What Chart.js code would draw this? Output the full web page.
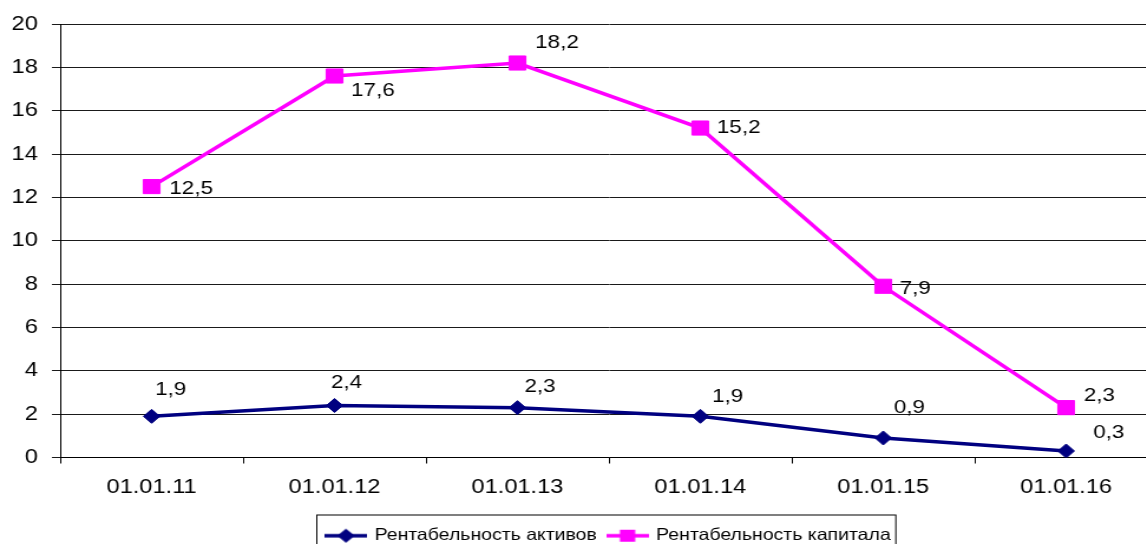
<!DOCTYPE html>
<html>
<head>
<meta charset="utf-8">
<script src="https://cdn.jsdelivr.net/npm/chart.js@4/dist/chart.umd.min.js"></script>
<style>
  html, body { margin: 0; padding: 0; background: #fff; overflow: hidden; width: 1146px; height: 544px; }
  #wrap { position: absolute; left: 0; top: 0; width: 992px; height: 570px; transform: scaleX(1.18); transform-origin: 0 0; }
  canvas { display: block; }
</style>
</head>
<body>
<div id="wrap"><canvas id="chart" width="992" height="570"></canvas></div>
<script>
// Reporting dates and the two profitability ratios, %
const periods = ['01.01.11', '01.01.12', '01.01.13', '01.01.14', '01.01.15', '01.01.16'];
const assetReturn = [1.9, 2.4, 2.3, 1.9, 0.9, 0.3];
const equityReturn = [12.5, 17.6, 18.2, 15.2, 7.9, 2.3];
const seriesNames = ['Рентабельность активов', 'Рентабельность капитала'];
const yAxisMin = 0;
const yAxisMax = 20;
const yAxisStep = 2;

// Where each value label sits relative to its point: [dx to text start, dy to text middle]
const assetLabelShift = [[3, -27], [-3, -23], [6, -21], [10, -20], [9, -30], [23, -18]];
const equityLabelShift = [[15, 2], [14, 15], [15, -20], [14, 0], [14, 2], [15, -12]];

const NAVY = '#000080';
const MAGENTA = '#FF00FF';
const FONT = '"Liberation Sans", Arial, sans-serif';

// Small line-with-marker swatches for the legend
function swatch(color, shape) {
  const c = document.createElement('canvas');
  c.width = 36; c.height = 16;
  const g = c.getContext('2d');
  g.strokeStyle = color; g.lineWidth = 3.5;
  g.beginPath(); g.moveTo(0, 8); g.lineTo(36, 8); g.stroke();
  g.fillStyle = color;
  if (shape === 'diamond') {
    g.beginPath(); g.moveTo(18, 1); g.lineTo(25.5, 8); g.lineTo(18, 15); g.lineTo(10.5, 8); g.closePath(); g.fill();
  } else {
    g.fillRect(11.5, 2, 13, 12);
  }
  return c;
}
const legendMarks = [swatch(NAVY, 'diamond'), swatch(MAGENTA, 'square')];

const fmt = v => v.toFixed(1).replace('.', ',');

const valueLabels = {
  id: 'valueLabels',
  afterDatasetsDraw(chart) {
    const ctx = chart.ctx;
    const shifts = [assetLabelShift, equityLabelShift];
    ctx.save();
    ctx.font = '19px ' + FONT;
    ctx.fillStyle = '#000';
    ctx.textAlign = 'left';
    ctx.textBaseline = 'middle';
    chart.data.datasets.forEach((ds, i) => {
      const meta = chart.getDatasetMeta(i);
      meta.data.forEach((pt, j) => {
        const s = shifts[i][j];
        ctx.fillText(fmt(ds.data[j]), pt.x + s[0], pt.y + s[1]);
      });
    });
    ctx.restore();
  }
};

const legendFrame = {
  id: 'legendFrame',
  afterDraw(chart) {
    const lg = chart.legend;
    if (!lg || !lg.legendHitBoxes || !lg.legendHitBoxes.length) return;
    const boxes = lg.legendHitBoxes;
    const left = Math.min(...boxes.map(b => b.left)) - 9;
    const right = Math.max(...boxes.map(b => b.left + b.width)) + 4;
    const top = lg.top - 2.5;
    const ctx = chart.ctx;
    ctx.save();
    ctx.strokeStyle = '#000';
    ctx.lineWidth = 1;
    ctx.strokeRect(Math.round(left) + 0.5, top, right - left, 60);
    ctx.restore();
  }
};

new Chart(document.getElementById('chart'), {
  type: 'line',
  data: {
    labels: periods,
    datasets: [
      {
        label: seriesNames[0],
        data: assetReturn,
        borderColor: NAVY,
        backgroundColor: NAVY,
        borderWidth: 3.5,
        pointStyle: 'rectRot',
        pointRadius: 7,
        pointBorderWidth: 1,
        pointBackgroundColor: NAVY,
        pointBorderColor: NAVY,
        tension: 0
      },
      {
        label: seriesNames[1],
        data: equityReturn,
        borderColor: MAGENTA,
        backgroundColor: MAGENTA,
        borderWidth: 3.5,
        pointStyle: 'rect',
        pointRadius: 10,
        pointBorderWidth: 1,
        pointBackgroundColor: MAGENTA,
        pointBorderColor: MAGENTA,
        tension: 0
      }
    ]
  },
  options: {
    responsive: false,
    animation: false,
    devicePixelRatio: 1,
    layout: { padding: { top: 22, left: 0, right: 0, bottom: 16 } },
    plugins: {
      tooltip: { enabled: false },
      legend: {
        position: 'bottom',
        fullSize: false,
        labels: {
          color: '#000',
          font: { family: FONT, size: 16.5 },
          usePointStyle: true,
          pointStyleWidth: 32,
          padding: 10,
          generateLabels(chart) {
            const items = Chart.defaults.plugins.legend.labels.generateLabels(chart);
            items.forEach((it, i) => { it.pointStyle = legendMarks[i]; });
            return items;
          }
        }
      }
    },
    scales: {
      x: {
        type: 'category',
        offset: true,
        afterFit(scale) { scale.height = 60; },
        grid: { offset: true, drawOnChartArea: false, drawTicks: true, tickLength: 6, color: '#000', lineWidth: 1 },
        border: { display: true, color: '#000', width: 1 },
        ticks: { color: '#000', font: { family: FONT, size: 20 }, padding: 12, maxRotation: 0, autoSkip: false }
      },
      y: {
        min: yAxisMin,
        max: yAxisMax,
        afterFit(scale) { scale.width = 51; },
        grid: { color: '#1a1a1a', lineWidth: 1, drawTicks: true, tickLength: 7 },
        border: { display: true, color: '#000', width: 1 },
        ticks: { stepSize: yAxisStep, color: '#000', font: { family: FONT, size: 20 }, padding: 12 }
      }
    }
  },
  plugins: [valueLabels, legendFrame]
});
</script>
</body>
</html>
